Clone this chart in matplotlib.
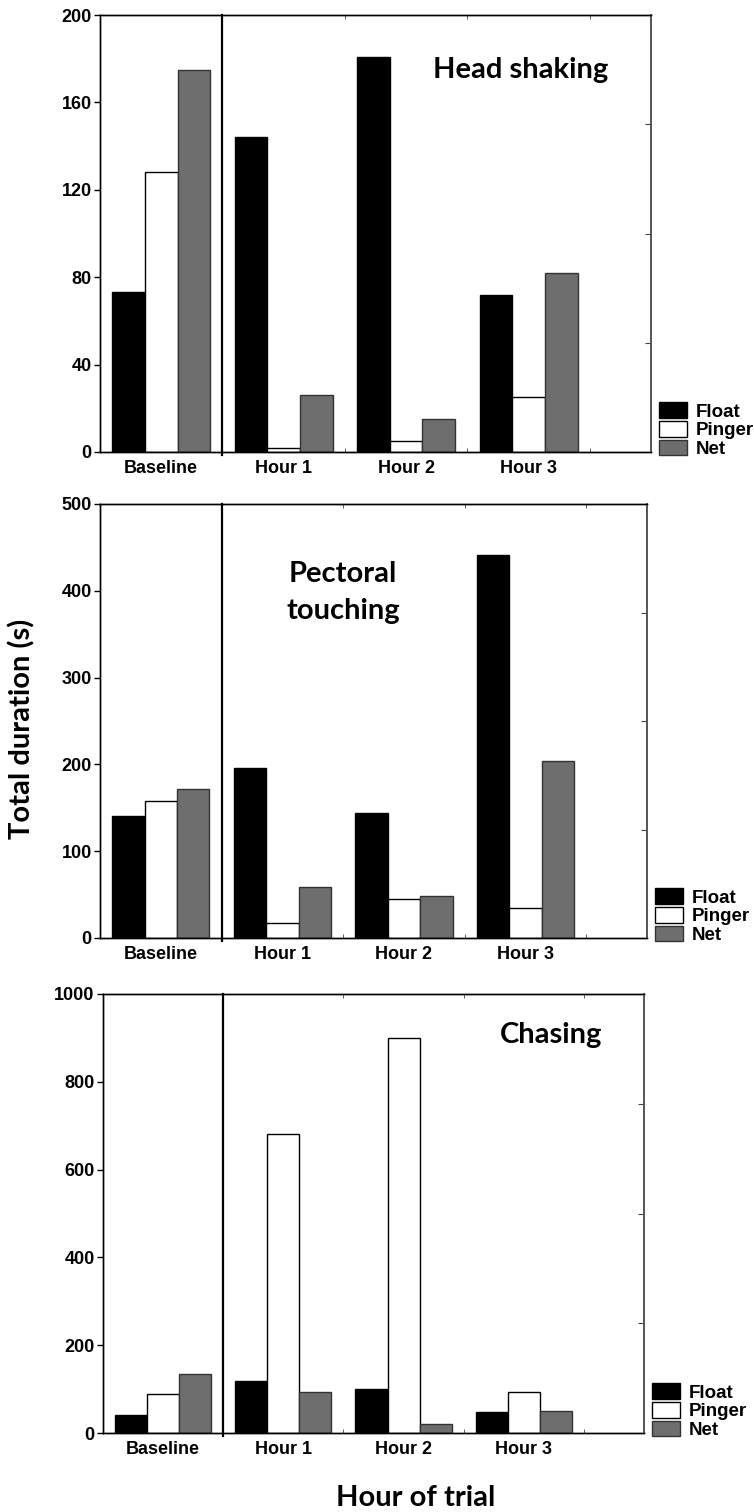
import matplotlib
matplotlib.use("Agg")
import numpy as np
import matplotlib.pyplot as plt
from matplotlib.patches import Patch

# Hours of the trial and the three deterrent treatments
groups = ["Baseline", "Hour 1", "Hour 2", "Hour 3"]
treatments = ["Float", "Pinger", "Net"]
colors = ["#000000", "#ffffff", "#6e6e6e"]

# Total duration (s) per behaviour
head_float = [73, 144, 181, 72]
head_pinger = [128, 2, 5, 25]
head_net = [175, 26, 15, 82]

pect_float = [140, 196, 144, 441]
pect_pinger = [158, 17, 45, 34]
pect_net = [172, 59, 48, 204]

chase_float = [42, 119, 101, 47]
chase_pinger = [89, 680, 900, 94]
chase_net = [135, 94, 20, 49]

label_font = "Liberation Sans"
title_font = "Lato"

W, H = 754, 1512
fig = plt.figure(figsize=(W / 100, H / 100), dpi=100)


def add_panel(box, series, ymax, yticks, title, tx, ty):
    left, right, top, bottom = box
    ax = fig.add_axes([left / W, 1 - bottom / H, (right - left) / W, (bottom - top) / H])
    x = np.arange(len(groups))
    width = 0.267
    for i, vals in enumerate(series):
        edge = "#000000" if i < 2 else "#333333"
        ax.bar(x + (i - 1) * width, vals, width, color=colors[i],
               edgecolor=edge, linewidth=1.0, label=treatments[i], zorder=2)

    ax.set_xlim(-0.5, 4.0)
    ax.set_ylim(0, ymax)

    # divider between baseline and the trial hours
    ax.axvline(0.5, ymin=-0.006, ymax=1.0, color="black", lw=1.6,
               clip_on=False, zorder=3)

    ax.set_xticks(x)
    ax.set_xticklabels(groups, fontfamily=label_font, fontweight="bold", fontsize=13)
    ax.set_xticks([1.5, 2.5, 3.5], minor=True)
    ax.tick_params(axis="x", which="major", length=0, pad=6)
    ax.tick_params(axis="x", which="minor", direction="in", length=3,
                   top=True, bottom=True, color="#444444")

    ax.set_yticks(yticks)
    ax.set_yticklabels([str(v) for v in yticks], fontfamily=label_font,
                       fontweight="bold", fontsize=13)
    ax.tick_params(axis="y", direction="out", length=4, width=1, pad=2)

    # unlabelled quarter ticks on the right spine
    rax = ax.twinx()
    rax.set_ylim(0, ymax)
    rax.set_yticks([ymax * 0.25, ymax * 0.5, ymax * 0.75])
    rax.set_yticklabels([])
    rax.tick_params(axis="y", direction="in", length=4, color="#444444")

    for a in (ax, rax):
        for side in ("left", "bottom", "top"):
            a.spines[side].set_color("black")
            a.spines[side].set_linewidth(1.0)
        a.spines["right"].set_color("#555555")
        a.spines["right"].set_linewidth(1.2)

    ax.text(tx, ty, title, transform=ax.transAxes, ha="center", va="center",
            fontfamily=title_font, fontweight="bold", fontsize=21, linespacing=1.5)

    handles = [Patch(facecolor=colors[i], edgecolor="#000000" if i < 2 else "#333333",
                     linewidth=1.0, label=treatments[i]) for i in range(3)]
    ax_w = right - left
    ax_h = bottom - top
    leg = ax.legend(handles=handles, loc="lower left",
                    bbox_to_anchor=(1 + 8 / ax_w, -6 / ax_h), frameon=False,
                    borderaxespad=0, borderpad=0, handlelength=1.5,
                    handleheight=0.92, handletextpad=0.45, labelspacing=0.02,
                    prop={"family": label_font, "weight": "bold", "size": 13.5})
    leg.set_clip_on(False)
    return ax


add_panel((100, 651, 15, 452), [head_float, head_pinger, head_net], 200,
          [0, 40, 80, 120, 160, 200], "Head shaking", 0.763, 0.874)
add_panel((100, 647, 504, 938), [pect_float, pect_pinger, pect_net], 500,
          [0, 100, 200, 300, 400, 500], "Pectoral\ntouching", 0.444, 0.796)
add_panel((103, 644, 994, 1433), [chase_float, chase_pinger, chase_net], 1000,
          [0, 200, 400, 600, 800, 1000], "Chasing", 0.828, 0.907)

fig.text(22 / W, 1 - 729 / H, "Total duration (s)", rotation=90, ha="center",
         va="center", fontfamily=title_font, fontweight="bold", fontsize=21)
fig.text(416 / W, 1 - 1498 / H, "Hour of trial", ha="center", va="center",
         fontfamily=title_font, fontweight="bold", fontsize=21)

fig.savefig("out.png", dpi=100)
